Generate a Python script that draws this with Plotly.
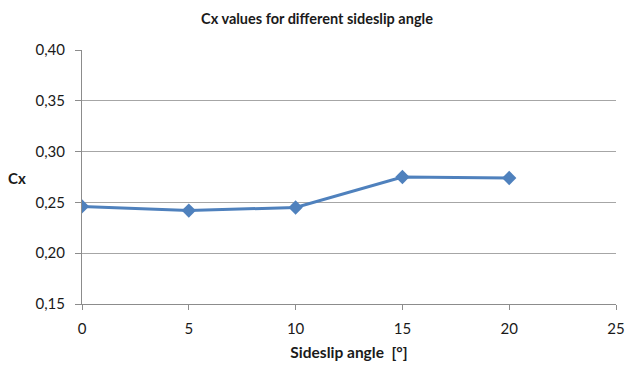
import plotly.graph_objects as go

# Sideslip angle (deg) and measured drag coefficient Cx
sideslip_deg = [0, 5, 10, 15, 20]
cx_values = [0.246, 0.242, 0.245, 0.275, 0.274]

x_ticks = [0, 5, 10, 15, 20, 25]
y_ticks = [0.15, 0.20, 0.25, 0.30, 0.35, 0.40]
y_tick_text = [f"{v:.2f}".replace(".", ",") for v in y_ticks]

font_family = "Lato, Open Sans, sans-serif"
axis_color = "#8c8c8c"
grid_color = "#a6a6a6"
text_color = "#1a1a1a"

fig = go.Figure()
fig.add_trace(go.Scatter(
    x=sideslip_deg,
    y=cx_values,
    mode="lines+markers",
    line=dict(color="#4f81bd", width=3),
    marker=dict(symbol="diamond", size=11, color="#4f81bd"),
    showlegend=False,
    hoverinfo="x+y",
))

fig.update_layout(
    width=634,
    height=365,
    margin=dict(l=82, r=18, t=50, b=61),
    paper_bgcolor="white",
    plot_bgcolor="white",
    font=dict(family=font_family, size=14, color=text_color),
    title=dict(
        text="<b>Cx values for different sideslip angle</b>",
        xref="container", x=0.5, xanchor="center",
        yref="container", y=0.948, yanchor="middle",
        font=dict(size=14.5, family=font_family, color=text_color),
    ),
    xaxis=dict(
        range=[0, 25],
        tickvals=x_ticks,
        automargin=False,
        showgrid=False,
        showline=True,
        linecolor=axis_color,
        linewidth=1,
        ticks="outside",
        ticklen=5,
        tickcolor=axis_color,
        ticklabelstandoff=6,
        tickfont=dict(size=15, color=text_color),
        zeroline=False,
        title=dict(text="<b>Sideslip angle  [°]</b>",
                   font=dict(size=15.5, color=text_color), standoff=11),
    ),
    yaxis=dict(
        range=[0.15, 0.40],
        tickvals=y_ticks,
        ticktext=y_tick_text,
        automargin=False,
        showgrid=True,
        gridcolor=grid_color,
        gridwidth=1,
        showline=True,
        linecolor=axis_color,
        linewidth=1,
        ticks="outside",
        ticklen=6,
        tickcolor=axis_color,
        ticklabelstandoff=7,
        tickfont=dict(size=15, color=text_color),
        zeroline=False,
    ),
    annotations=[dict(
        text="<b>Cx</b>",
        xref="paper", yref="paper",
        x=-0.121, y=0.497, xanchor="center", yanchor="middle",
        showarrow=False,
        font=dict(size=15, color=text_color, family=font_family),
    )],
)

fig.write_html("out.html")
